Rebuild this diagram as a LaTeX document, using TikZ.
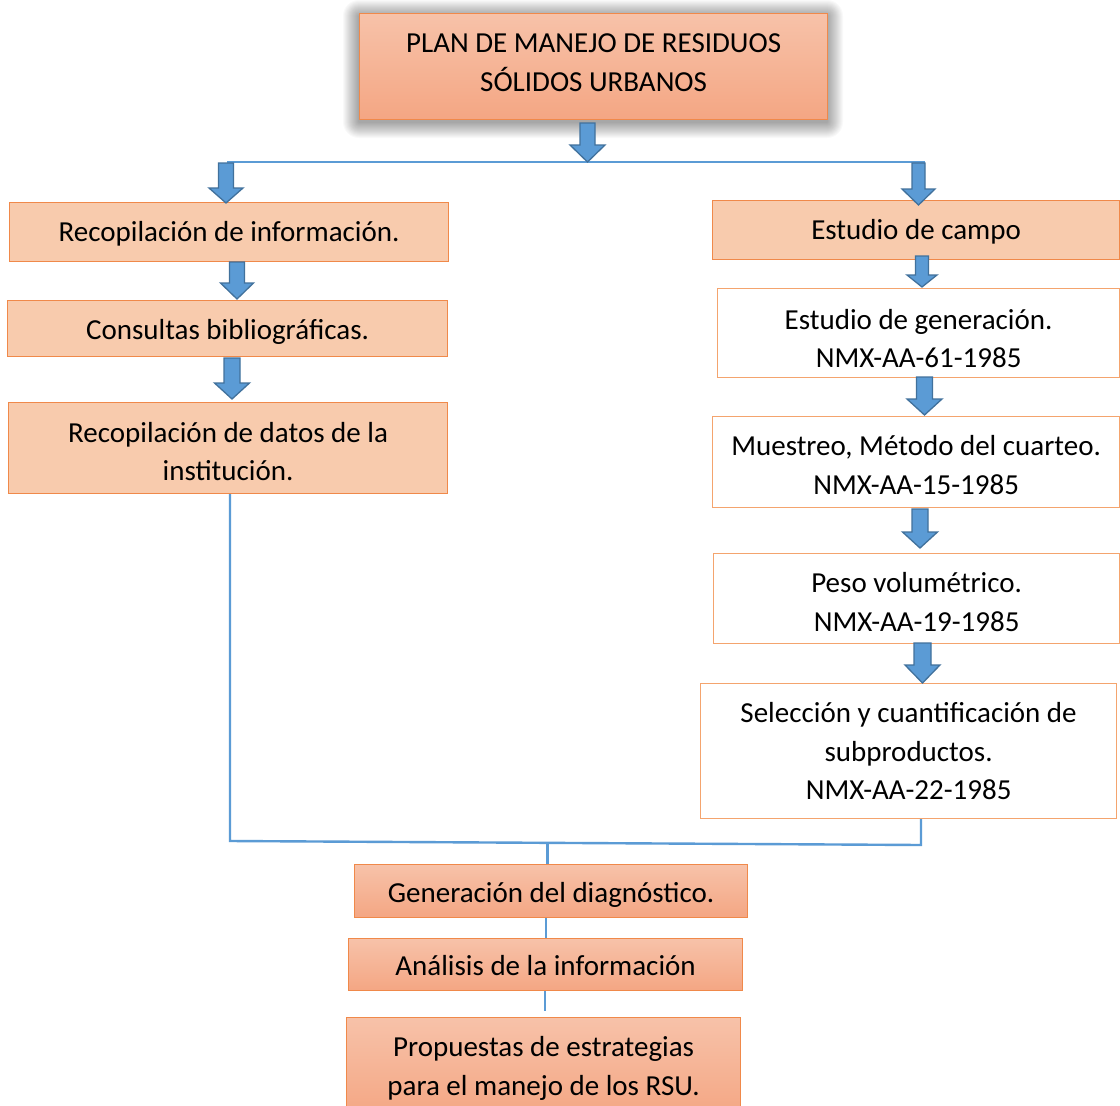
\documentclass[tikz,border=0pt]{standalone}
\usepackage{fontspec}
\setmainfont{Carlito}
\definecolor{lineblue}{HTML}{5B9BD5}
\definecolor{arrfill}{HTML}{5B9BD5}
\definecolor{arrdraw}{HTML}{41719C}
\definecolor{peach}{HTML}{F8CBAD}
\definecolor{orbord}{HTML}{F0894A}
\definecolor{wbord}{HTML}{F4A46E}
\definecolor{gradtop}{HTML}{F7C2A9}
\definecolor{gradbot}{HTML}{F4A683}
\newcommand\blockarr[6]{%
  \filldraw[fill=arrfill, draw=arrdraw, line width=1.3pt, line join=miter]
    ({#1-#5},#2) -- ({#1+#5},#2) -- ({#1+#5},#3) -- ({#1+#6},#3) -- (#1,#4)
    -- ({#1-#6},#3) -- ({#1-#5},#3) -- cycle;}
\begin{document}
\begin{tikzpicture}[x=1pt,y=-1pt,
  box/.style={draw, line width=1.2pt, inner sep=0pt, anchor=north west},
  peachbox/.style={box, fill=peach, draw=orbord},
  whitebox/.style={box, fill=white, draw=wbord},
  gradbox/.style={box, draw=orbord, top color=gradtop, bottom color=gradbot},
  txt/.style={inner sep=0pt, align=center, font=\fontsize{29}{38.5}\selectfont},
  conn/.style={draw=lineblue, line width=2.4pt}]
\clip (0,0) rectangle (1120,1106);
\fill[white] (0,0) rectangle (1120,1106);

% soft shadow round the top box
\foreach \i in {1,...,16}{
  \fill[black, opacity=0.022, rounded corners=\i pt]
    ({359-\i},{13-\i+3}) rectangle ({827+\i},{119+\i+3});
}

% top
\node[gradbox, minimum width=468, minimum height=106] (top) at (359,13) {};
\node[txt] (topt) at ([yshift=4pt]top.center) {PLAN DE MANEJO DE RESIDUOS\\SÓLIDOS URBANOS};

% left column
\node[peachbox, minimum width=439, minimum height=59] (l1) at (9,202) {};
\node[txt] (l1t) at ([yshift=-2pt]l1.center) {Recopilación de información.};
\node[peachbox, minimum width=440, minimum height=56] (l2) at (7,300) {};
\node[txt] (l2t) at ([yshift=-3pt]l2.center) {Consultas bibliográficas.};
\node[peachbox, minimum width=439, minimum height=91] (l3) at (8,402) {};
\node[txt] (l3t) at ([yshift=-3.5pt]l3.center) {Recopilación de datos de la\\institución.};

% right column
\node[peachbox, minimum width=407, minimum height=59] (r1) at (712,200) {};
\node[txt] (r1t) at ([yshift=-2pt]r1.center) {Estudio de campo};
\node[whitebox, minimum width=402, minimum height=89] (r2) at (717,288) {};
\node[txt] (r2t) at ([yshift=-5.5pt]r2.center) {Estudio de generación.\\NMX-AA-61-1985};
\node[whitebox, minimum width=407, minimum height=91] (r3) at (712,416) {};
\node[txt] (r3t) at ([yshift=-3pt]r3.center) {Muestreo, Método del cuarteo.\\NMX-AA-15-1985};
\node[whitebox, minimum width=406, minimum height=90] (r4) at (713,553) {};
\node[txt] (r4t) at ([yshift=-3.5pt]r4.center) {Peso volumétrico.\\NMX-AA-19-1985};
\node[whitebox, minimum width=416, minimum height=135] (r5) at (700,683) {};
\node[txt] (r5t) at (r5.center) {Selección y cuantificación de\\subproductos.\\NMX-AA-22-1985};

% bottom
\node[gradbox, minimum width=393, minimum height=53] (b1) at (354,864) {};
\node[txt] (b1t) at ([yshift=-4pt]b1.center) {Generación del diagnóstico.};
\node[gradbox, minimum width=394, minimum height=52] (b2) at (348,938) {};
\node[txt] (b2t) at ([yshift=-1pt]b2.center) {Análisis de la información};
\node[gradbox, minimum width=394, minimum height=100] (b3) at (346,1017) {};
\node[txt] (b3t) at ([yshift=-1pt]b3.center) {Propuestas de estrategias\\para el manejo de los RSU.};

% connector lines
\coordinate (hl) at (227,162);
\coordinate (hr) at (925,162);
\draw[conn] (hl) -- (hr);
\coordinate (jl) at (230,841);
\coordinate (jr) at (921,845);
\coordinate (jm) at (547.5,843);
\draw[conn, line join=miter] (l3.south -| jl) -- (jl) -- (jr) -- (r5.south -| jr);
\draw[conn] (jm) -- (b1.north -| jm);
\draw[conn] (b1.south -| 546,0) -- (b2.north -| 546,0);
\draw[conn] (b2.south -| 545,0) -- (545,1011);

% block arrows
\blockarr{587.5}{123}{145}{162}{7.5}{17.5}
\blockarr{226}{163}{188}{203}{7.5}{17}
\blockarr{237}{262}{283}{299}{7.5}{16.5}
\blockarr{232}{358}{383}{399}{8}{17.5}
\blockarr{918.5}{163}{189}{205}{6.5}{16.5}
\blockarr{922}{256}{275}{287}{6.5}{15}
\blockarr{924.5}{377}{399}{415}{8}{17.5}
\blockarr{920}{509}{532}{548}{8}{17.5}
\blockarr{922.5}{643}{665}{683}{8.5}{17.5}
\end{tikzpicture}
\end{document}
